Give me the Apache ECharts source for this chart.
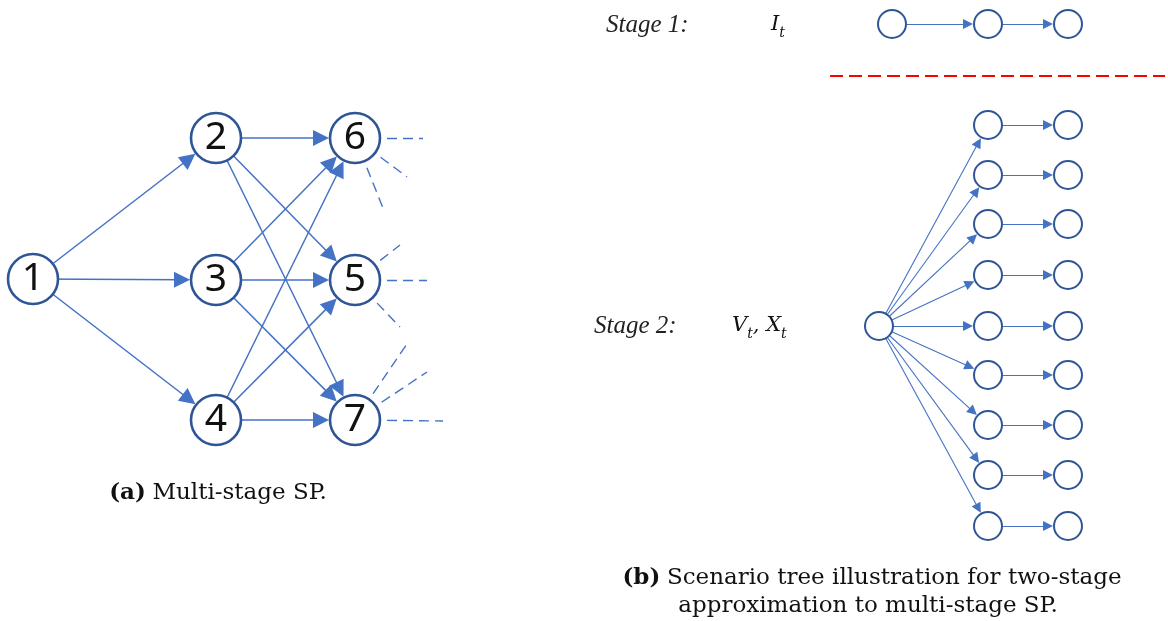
<!DOCTYPE html>
<html><head><meta charset="utf-8">
<script src="https://cdn.jsdelivr.net/npm/echarts@6/dist/echarts.min.js"></script>
<style>html,body{margin:0;padding:0;background:#fff}#c{width:1168px;height:621px}</style>
</head><body><div id="c"></div>
<script>
// ---- data (diagram coordinates) ----
const leftNames = ['1', '2', '3', '4', '6', '5', '7'];
const leftX = [33, 216, 216, 216, 355, 355, 355];
const leftY = [279, 138, 280, 420, 138, 280, 420];
const leftLinks = [['1','2'],['1','3'],['1','4'],['2','6'],['2','5'],['2','7'],['3','6'],['3','5'],['3','7'],['4','6'],['4','5'],['4','7']];
const stubFrom = ['6', '6', '6', '5', '5', '5', '7', '7', '7'];
const stubX = [423, 407, 383, 400, 427, 400, 407, 427, 443];
const stubY = [138, 177, 208, 245, 280, 327, 344, 372, 421];

const stage1X = [892, 988, 1068];
const stage1Y = 24;
const rootX = 879, rootY = 326;
const col1X = 988, col2X = 1068;
const rowY = [125, 175, 224, 275, 326, 375, 425, 475, 526];
const dividerX = [830, 1165];
const dividerY = 76;

// ---- styles ----
const NODE_BORDER = '#2F5597';
const EDGE = '#4472C4';
const L_R = 25, L_ARROW = 16;
const R_R = 14, R_ARROW = 10;

// ---- build graph data ----
const gNodes = [];   // invisible nodes used for edge routing
const gLinks = [];
const leftDots = []; // visible circles
const rightDots = [];

leftNames.forEach((n, i) => {
  gNodes.push({ name: 'L' + n, value: [leftX[i], leftY[i]], symbolSize: 2 * L_R + L_ARROW + 2 });
  leftDots.push([leftX[i], leftY[i], n]);
});
leftLinks.forEach(([a, b]) => gLinks.push({
  source: 'L' + a, target: 'L' + b, symbolSize: L_ARROW,
  lineStyle: { width: 1.5, color: EDGE }
}));
stubFrom.forEach((f, i) => {
  gNodes.push({ name: 'S' + i, value: [stubX[i], stubY[i]], symbolSize: 0 });
  gLinks.push({ source: 'L' + f, target: 'S' + i, symbol: ['none', 'none'],
    lineStyle: { width: 1.4, color: EDGE, type: [10, 6] } });
});

// right: stage 1 chain
stage1X.forEach((x, i) => {
  gNodes.push({ name: 'A' + i, value: [x, stage1Y], symbolSize: 2 * R_R + R_ARROW + 2 });
  rightDots.push([x, stage1Y]);
  if (i > 0) gLinks.push({ source: 'A' + (i - 1), target: 'A' + i, symbolSize: R_ARROW,
    lineStyle: { width: 1.2, color: EDGE } });
});
// right: stage 2 tree
gNodes.push({ name: 'R', value: [rootX, rootY], symbolSize: 2 * R_R + R_ARROW + 2 });
rightDots.push([rootX, rootY]);
rowY.forEach((y, i) => {
  gNodes.push({ name: 'B' + i, value: [col1X, y], symbolSize: 2 * R_R + R_ARROW + 2 });
  gNodes.push({ name: 'C' + i, value: [col2X, y], symbolSize: 2 * R_R + R_ARROW + 2 });
  rightDots.push([col1X, y], [col2X, y]);
  gLinks.push({ source: 'R', target: 'B' + i, symbolSize: R_ARROW, lineStyle: { width: 1.1, color: EDGE } });
  gLinks.push({ source: 'B' + i, target: 'C' + i, symbolSize: R_ARROW, lineStyle: { width: 1.1, color: EDGE } });
});

const mathRich = {
  i: { fontFamily: 'DejaVu Serif', fontStyle: 'italic', fontSize: 21, lineHeight: 26, verticalAlign: 'top' },
  s: { fontFamily: 'DejaVu Serif', fontStyle: 'italic', fontSize: 14, lineHeight: 16, verticalAlign: 'bottom' }
};
const capRich = {
  b: { fontFamily: 'DejaVu Serif', fontWeight: 'bold', fontSize: 23 },
  n: { fontFamily: 'DejaVu Serif', fontSize: 23 }
};

const chart = echarts.init(document.getElementById('c'), null, { renderer: 'canvas' });
chart.setOption({
  animation: false,
  backgroundColor: '#fff',
  grid: { left: 0, right: 0, top: 0, bottom: 0 },
  xAxis: { type: 'value', min: 0, max: 1168, show: false },
  yAxis: { type: 'value', min: 0, max: 621, inverse: true, show: false },
  series: [
    {
      type: 'graph', coordinateSystem: 'cartesian2d', silent: true, z: 2,
      edgeSymbol: ['none', 'triangle'],
      itemStyle: { color: 'rgba(0,0,0,0)', borderWidth: 0 },
      lineStyle: { opacity: 1, curveness: 0 },
      label: { show: false },
      emphasis: { disabled: true },
      data: gNodes, links: gLinks
    },
    {
      type: 'line', silent: true, z: 2, symbol: 'none',
      data: dividerX.map(x => [x, dividerY]),
      lineStyle: { color: '#FF0000', width: 2, type: [13, 6] }
    },
    {
      type: 'scatter', silent: true, z: 5,
      symbol: 'circle', symbolSize: 2 * L_R,
      itemStyle: { color: '#fff', borderColor: NODE_BORDER, borderWidth: 2.6, opacity: 1 },
      label: { show: true, position: 'inside', formatter: p => p.data[2],
        fontFamily: 'Noto Sans', fontSize: 39, color: '#111' },
      data: leftDots
    },
    {
      type: 'scatter', silent: true, z: 5,
      symbol: 'circle', symbolSize: 2 * R_R,
      itemStyle: { color: '#fff', borderColor: NODE_BORDER, borderWidth: 2, opacity: 1 },
      data: rightDots
    }
  ],
  graphic: [
    { type: 'text', x: 606, y: 25, style: { text: 'Stage 1:', font: 'italic 25px "Liberation Serif"', fill: '#222', textVerticalAlign: 'middle' } },
    { type: 'text', x: 594, y: 326, style: { text: 'Stage 2:', font: 'italic 25px "Liberation Serif"', fill: '#222', textVerticalAlign: 'middle' } },
    { type: 'text', x: 771, y: 27, style: { text: '{i|I}{s|t}', textVerticalAlign: 'middle', fill: '#111', rich: mathRich } },
    { type: 'text', x: 732, y: 328, style: { text: '{i|V}{s|t}{i|, X}{s|t}', textVerticalAlign: 'middle', fill: '#111', rich: mathRich } },
    { type: 'text', x: 218, y: 493, style: {
        text: '{b|(a)}  {n|Multi-stage SP.}', textAlign: 'center', textVerticalAlign: 'middle', fill: '#111', rich: capRich } },
    { type: 'text', x: 872, y: 578, style: {
        text: '{b|(b)}  {n|Scenario tree illustration for two-stage}', textAlign: 'center', textVerticalAlign: 'middle', fill: '#111', rich: capRich } },
    { type: 'text', x: 868, y: 606, style: {
        text: 'approximation to multi-stage SP.', textAlign: 'center', textVerticalAlign: 'middle', fill: '#111',
        font: '23px "DejaVu Serif"' } }
  ]
});
</script></body></html>
